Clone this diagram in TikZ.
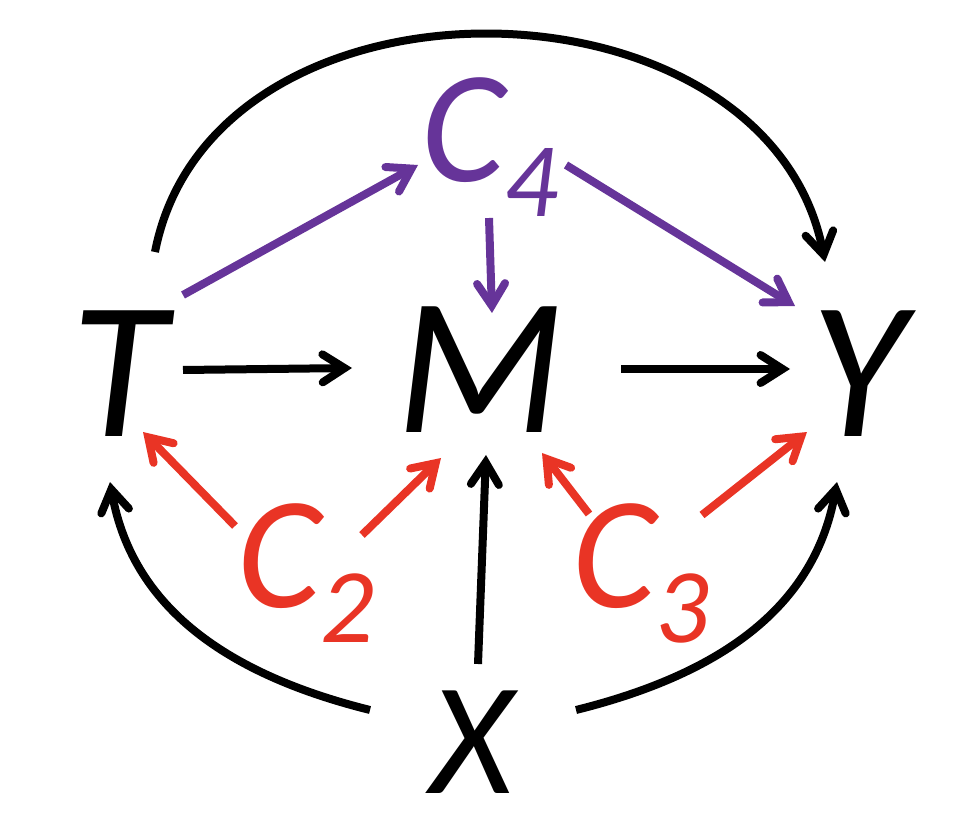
\documentclass[tikz,border=0pt]{standalone}
\usepackage{fontspec}
\setmainfont{Carlito}
\usetikzlibrary{arrows.meta}
\definecolor{cpurple}{RGB}{102,52,153}
\definecolor{cred}{RGB}{233,52,37}
\newcommand{\csub}[2]{#1\raisebox{-35pt}{\fontsize{106}{106}\selectfont #2}}

\begin{document}
\begin{tikzpicture}[x=1pt, y=1pt,
    var/.style={inner sep=0, anchor=base, font=\fontsize{196}{196}\selectfont\itshape},
    confounder/.style={inner sep=0, anchor=base, font=\fontsize{160}{160}\selectfont\itshape},
    edge/.style={line width=8pt, -{Straight Barb[length=22pt,width=28pt,line cap=round]}}]
    \useasboundingbox (0,0) rectangle (954,-818);

    % variables
    \node[var] (T) at (119,-436) {T};
    \node[var] (M) at (480,-432) {M};
    \node[var] (Y) at (858,-437) {Y};
    \node[confounder] (X) at (472,-793) {X};
    \node[confounder, cpurple] (C4) at (490,-182) {\csub{C}{4}};
    \node[confounder, cred] (C2) at (306,-607) {\csub{C}{2}};
    \node[confounder, cred] (C3) at (641,-607) {\csub{C}{3}};

    % main path
    \draw[edge] ([shift={(64,66)}]T.base) -- ([shift={(-128,64)}]M.base);
    \draw[edge] ([shift={(141,63)}]M.base) -- ([shift={(-68,68)}]Y.base);
    \draw[edge] ([shift={(36,184)}]T.base) to[out=79, in=101, looseness=1.15] ([shift={(-33,175)}]Y.base);

    % C4
    \draw[edge, cpurple] ([shift={(64,141)}]T.base) -- ([shift={(-72,17)}]C4.base);
    \draw[edge, cpurple] ([shift={(-1,-36)}]C4.base) -- ([shift={(12,119)}]M.base);
    \draw[edge, cpurple] ([shift={(76,17)}]C4.base) -- ([shift={(-63,131)}]Y.base);

    % C2 and C3
    \draw[edge, cred] ([shift={(-71,81)}]C2.base) -- ([shift={(24,4)}]T.base);
    \draw[edge, cred] ([shift={(56,72)}]C2.base) -- ([shift={(-39,-26)}]M.base);
    \draw[edge, cred] ([shift={(-52,93)}]C3.base) -- ([shift={(62,-21)}]M.base);
    \draw[edge, cred] ([shift={(61,92)}]C3.base) -- ([shift={(-51,5)}]Y.base);

    % X
    \draw[edge] ([shift={(6,129)}]X.base) -- ([shift={(6,-23)}]M.base);
    \draw[edge] ([shift={(-102,83)}]X.base) to[out=166, in=-80] ([shift={(-9,-46)}]T.base);
    \draw[edge] ([shift={(104,83)}]X.base) to[out=14, in=-100] ([shift={(-21,-45)}]Y.base);
\end{tikzpicture}
\end{document}
